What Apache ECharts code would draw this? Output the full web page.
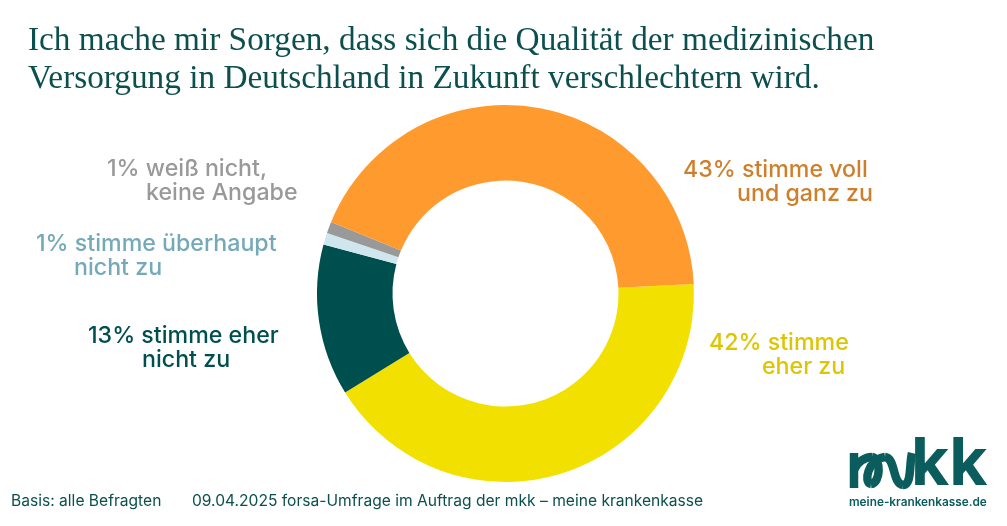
<!DOCTYPE html>
<html><head><meta charset="utf-8">
<style>html,body{margin:0;padding:0;background:#fff}#c{width:1007px;height:526px}</style>
<script src="https://cdn.jsdelivr.net/npm/echarts@6/dist/echarts.min.js"></script></head>
<body><div id="c"></div>
<script>
const titleLines = ['Ich mache mir Sorgen, dass sich die Qualität der medizinischen','Versorgung in Deutschland in Zukunft verschlechtern wird.'];
const categories = ['stimme eher zu','stimme eher nicht zu','stimme überhaupt nicht zu','weiß nicht, keine Angabe','stimme voll und ganz zu'];
const values = [42,13,1,1,43];
const colors = ['#F2E100','#004F4F','#CFE6EE','#999999','#FF9A2E'];
const labelColors = ['#DDC500','#004F4F','#74A9B8','#999999','#CF7F2B'];
const line1 = ['42% stimme','13% stimme eher','1% stimme überhaupt','1% weiß nicht,','43% stimme voll'];
const line2 = ['eher zu','nicht zu','nicht zu','keine Angabe','und ganz zu'];
const labelX = [709,88,36,107,683];
const labelY = [355,348,256,181,182];
const indent = [53,54,38,39,54];
const footerLeft = 'Basis: alle Befragten';
const footerRight = '09.04.2025 forsa-Umfrage im Auftrag der mkk – meine krankenkasse';
const logoUrl = 'meine-krankenkasse.de';

const FONT = 'Inter, "Open Sans", sans-serif';
const LOGO = '#0B5C5C';
const stroke = {fill:null,stroke:LOGO,lineWidth:8.5};
const curve = (x1,y1,cpx1,cpy1,cpx2,cpy2,x2,y2)=>({type:'bezierCurve',shape:{x1,y1,cpx1,cpy1,cpx2,cpy2,x2,y2},style:stroke});
const chart = echarts.init(document.getElementById('c'), null, {renderer:'canvas'});
chart.setOption({
  animation:false,
  backgroundColor:'#fff',
  series:[{
    type:'pie',
    center:[505.5,293.5],
    radius:[113,188.5],
    startAngle:2.9,
    clockwise:true,
    avoidLabelOverlap:false,
    labelLine:{show:false},
    label:{show:true},
    labelLayout:p=>({x:labelX[p.dataIndex],y:labelY[p.dataIndex],align:'left',verticalAlign:'middle'}),
    emphasis:{disabled:true},
    data:categories.map((n,i)=>({
      name:n,value:values[i],
      itemStyle:{color:colors[i]},
      label:{
        formatter:`{a|${line1[i]}}\n{s|}{a|${line2[i]}}`,
        rich:{
          a:{fontFamily:FONT,fontSize:23.2,fontWeight:500,lineHeight:23.5,color:labelColors[i]},
          s:{width:indent[i],height:1}
        }
      }
    }))
  }],
  graphic:[
    ...titleLines.map((t,i)=>({type:'text',left:28,top:24.5+i*38,style:{text:t,font:'33.3px "Liberation Serif", serif',fill:'#0C4F4F'}})),
    {type:'text',left:11,top:493,style:{text:footerLeft,font:'15.6px '+FONT,fill:'#0C4F4F'}},
    {type:'text',left:192,top:493,style:{text:footerRight,font:'15.6px '+FONT,fill:'#0C4F4F'}},
    {type:'line',shape:{x1:854,y1:453,x2:854,y2:488},style:stroke},
    curve(854,470,857,462,865,457,872,457),
    curve(872,457,881,458,881,483,871,484),
    curve(871,484,863,483,868,459,885,457),
    curve(885,457,896,458,892,484,903,485),
    curve(903,485,912,485,909,465,912,453),
    {type:'text',left:911,top:432,style:{text:'kk',font:'700 66px '+FONT,fill:LOGO}},
    {type:'text',left:849,top:496,style:{text:logoUrl,font:'600 11.8px '+FONT,fill:LOGO}}
  ]
});
</script></body></html>
